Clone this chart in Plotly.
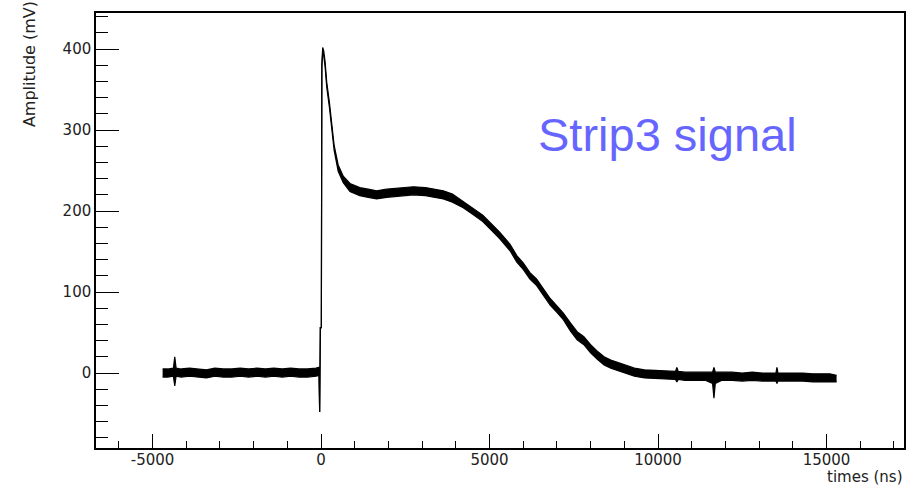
import numpy as np
import plotly.graph_objects as go

# time (ns), centre of trace (mV), half-width of noise band (mV)
t_ns = [-4700, -4550, -4380, -4340, -4300, -4150, -3900, -3650, -3400, -3150,
        -2900, -2650, -2400, -2150, -1900, -1650, -1400, -1150, -900, -650,
        -400, -150, -60, -40, -20, 10, 25, 50, 80, 120,
        170, 250, 320, 390, 510, 660, 860, 1150, 1400, 1650,
        1950, 2300, 2740, 3100, 3400, 3630, 3900, 4220, 4500, 4800,
        5015, 5300, 5610, 5810, 6000, 6200, 6400, 6600, 6800, 7000,
        7190, 7400, 7600, 7800, 8000, 8200, 8400, 8600, 8800, 9000,
        9300, 9600, 10000, 10300, 10520, 10560, 10600, 10800, 11100, 11400,
        11620, 11660, 11700, 11900, 12200, 12500, 12800, 13100, 13400, 13500,
        13530, 13560, 13700, 14000, 14300, 14600, 14900, 15100, 15300]
amp_mv = [0, 0, 1, 2, 1, 0, 1, 0, -1, 1,
          0, 0, 1, 0, 1, 0, 1, 0, 1, 0,
          0, 1, 2, -48, 56, 56, 380, 399, 395, 382,
          356, 331, 302, 278, 253, 239, 229, 224, 222, 220,
          222, 223, 225, 224, 222, 220, 216, 208, 200, 191,
          182, 170, 155, 141, 132, 120, 112, 100, 88, 79,
          70, 57, 46, 40, 30, 22, 15, 11, 8, 5,
          1, -1, -2, -3, -3, -2, -3, -4, -4, -4,
          -6, -12, -6, -4, -4, -5, -4, -5, -5, -5,
          -3, -5, -5, -5, -5, -6, -6, -6, -7]
noise_mv = [5, 5, 5, 18, 5, 5, 5, 5, 5, 5,
            5, 5, 5, 5, 5, 5, 5, 5, 5, 5,
            5, 5, 5, 0, 0, 0, 2, 3, 3, 3,
            3, 3, 3, 3, 4, 4, 5, 5, 5, 5,
            5, 5, 5, 5, 5, 5, 5, 4, 4, 4,
            4, 4, 4, 4, 4, 4, 4, 4, 4, 4,
            4, 5, 5, 5, 5, 5, 5, 5, 5, 5,
            5, 5, 5, 5, 5, 9, 5, 5, 5, 5,
            7, 19, 7, 5, 5, 5, 5, 5, 5, 5,
            10, 5, 5, 5, 5, 5, 5, 5, 4]

x_ticks = [-5000, 0, 5000, 10000, 15000]
y_ticks = [0, 100, 200, 300, 400]

t = np.array(t_ns)
a = np.array(amp_mv, dtype=float)
n = np.array(noise_mv, dtype=float)

fig = go.Figure()
fig.add_trace(go.Scatter(x=t, y=a - n, mode="lines",
                         line=dict(color="black", width=1.2), showlegend=False))
fig.add_trace(go.Scatter(x=t, y=a + n, mode="lines", fill="tonexty",
                         fillcolor="black",
                         line=dict(color="black", width=1.2), showlegend=False))

tick_font = dict(family="DejaVu Sans", size=15, color="#222222")

fig.update_layout(
    width=920, height=489,
    margin=dict(l=96, r=16, t=11, b=41),
    paper_bgcolor="white", plot_bgcolor="white",
    showlegend=False,
    xaxis=dict(range=[-6677, 17300], tickvals=x_ticks,
               ticktext=[f"{v}" if v >= 0 else f"-{abs(v)}" for v in x_ticks],
               ticks="inside", ticklen=14, tickwidth=1.2, tickcolor="black",
               ticklabelstandoff=-3,
               minor=dict(ticks="inside", ticklen=7, dtick=1000, tick0=0,
                          tickcolor="black", tickwidth=1.2, showgrid=False),
               showline=True, linecolor="black", linewidth=1.5, mirror=True,
               showgrid=False, zeroline=False, tickfont=tick_font),
    yaxis=dict(range=[-92.6, 444.6], tickvals=y_ticks,
               ticks="inside", ticklen=23, tickwidth=1.2, tickcolor="black",
               minor=dict(ticks="inside", ticklen=12, dtick=20, tick0=0,
                          tickcolor="black", tickwidth=1.2, showgrid=False),
               showline=True, linecolor="black", linewidth=1.5, mirror=True,
               showgrid=False, zeroline=False, tickfont=tick_font),
    annotations=[
        dict(text="Strip3 signal", xref="x", yref="y", x=6380, y=295,
             xanchor="left", yanchor="middle", showarrow=False,
             font=dict(family="Liberation Sans, Arial", size=47,
                       color="rgb(102,102,255)")),
        dict(text="Amplitude (mV)", xref="paper", yref="paper",
             x=-0.0829, y=1.032, xanchor="center", yanchor="top",
             textangle=-90, showarrow=False,
             font=dict(family="DejaVu Sans", size=16, color="#222222")),
        dict(text="times (ns)", xref="paper", yref="paper",
             x=1.0, y=-0.0892, xanchor="right", yanchor="bottom",
             showarrow=False, borderpad=0,
             font=dict(family="DejaVu Sans", size=15, color="#222222")),
    ],
)

fig.write_html("out.html")
